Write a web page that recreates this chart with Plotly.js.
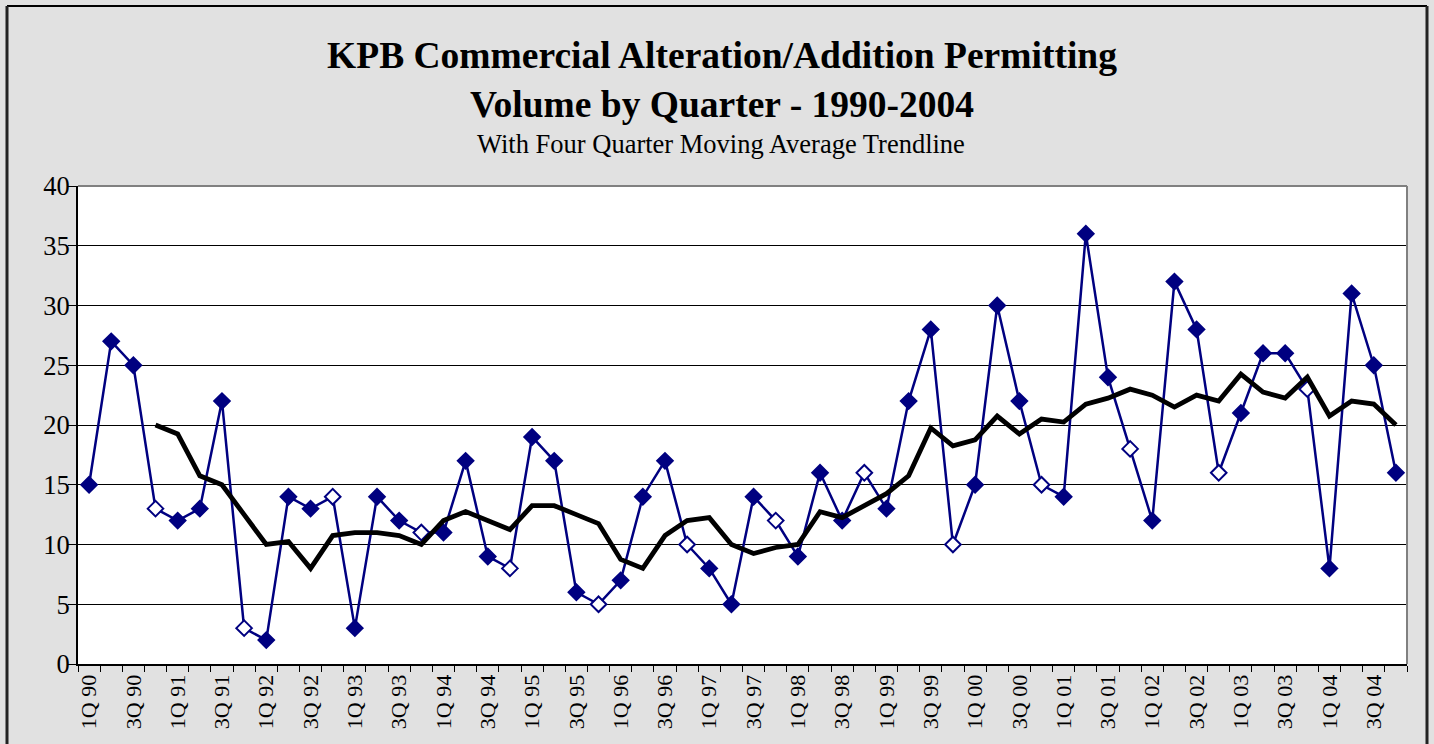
<!DOCTYPE html>
<html>
<head>
<meta charset="utf-8">
<script src="https://cdn.plot.ly/plotly-3.0.1.min.js"></script>
<style>html,body{margin:0;padding:0;background:#e1e1e1;}#chart{width:1434px;height:744px;}</style>
</head>
<body>
<div id="chart"></div>
<script>
const quarters = [
  "1Q 90","2Q 90","3Q 90","4Q 90","1Q 91","2Q 91","3Q 91","4Q 91",
  "1Q 92","2Q 92","3Q 92","4Q 92","1Q 93","2Q 93","3Q 93","4Q 93",
  "1Q 94","2Q 94","3Q 94","4Q 94","1Q 95","2Q 95","3Q 95","4Q 95",
  "1Q 96","2Q 96","3Q 96","4Q 96","1Q 97","2Q 97","3Q 97","4Q 97",
  "1Q 98","2Q 98","3Q 98","4Q 98","1Q 99","2Q 99","3Q 99","4Q 99",
  "1Q 00","2Q 00","3Q 00","4Q 00","1Q 01","2Q 01","3Q 01","4Q 01",
  "1Q 02","2Q 02","3Q 02","4Q 02","1Q 03","2Q 03","3Q 03","4Q 03",
  "1Q 04","2Q 04","3Q 04","4Q 04"
];
const permits = [
  15,27,25,13, 12,13,22,3, 2,14,13,14, 3,14,12,11,
  11,17,9,8, 19,17,6,5, 7,14,17,10, 8,5,14,12,
  9,16,12,16, 13,22,28,10, 15,30,22,15, 14,36,24,18,
  12,32,28,16, 21,26,26,23, 8,31,25,16
];
const movingAvg = [
  null,null,null,20, 19.25,15.75,15,12.5, 10,10.25,8,10.75, 11,11,10.75,10,
  12,12.75,12,11.25, 13.25,13.25,12.5,11.75, 8.75,8,10.75,12, 12.25,10,9.25,9.75,
  10,12.75,12.25,13.25, 14.25,15.75,19.75,18.25, 18.75,20.75,19.25,20.5, 20.25,21.75,22.25,23,
  22.5,21.5,22.5,22, 24.25,22.75,22.25,24, 20.75,22,21.75,20
];
const titleLine1 = "KPB Commercial Alteration/Addition Permitting";
const titleLine2 = "Volume by Quarter - 1990-2004";
const subtitle = "With Four Quarter Moving Average Trendline";

const navy = "#000080";
const fillColors = quarters.map((q, i) => (q.startsWith("4Q") && i < quarters.length - 1) ? "#ffffff" : navy);
const tickText = quarters.map((q, i) => (i % 2 === 0 ? q : ""));

const serif = "Liberation Serif, Times New Roman, serif";

const traces = [
  {
    x: quarters, y: permits, type: "scatter", mode: "lines+markers",
    line: {color: navy, width: 2.5},
    marker: {symbol: "diamond", size: 12, color: fillColors, line: {color: navy, width: 2}},
    hoverinfo: "x+y", showlegend: false
  },
  {
    x: quarters, y: movingAvg, type: "scatter", mode: "lines",
    line: {color: "#000000", width: 4.8},
    connectgaps: false, hoverinfo: "x+y", showlegend: false
  }
];

const L = 78, R = 1407, T = 186, B = 664;
const pw = R - L, ph = B - T;
const px = v => (v - L) / pw;
const py = v => (B - v) / ph;

const layout = {
  width: 1434, height: 744,
  paper_bgcolor: "#e1e1e1", plot_bgcolor: "#ffffff",
  margin: {l: L, r: 1434 - R, t: T, b: 744 - B, pad: 0},
  font: {family: serif, color: "#000"},
  title: {
    text: "<b>" + titleLine1 + "</b><br><b>" + titleLine2 + "</b>",
    font: {family: serif, size: 37.5, color: "#000"},
    x: 722 / 1434, xanchor: "center", xref: "container",
    y: 1 - 68 / 744, yanchor: "middle", yref: "container"
  },
  annotations: [{
    text: subtitle, xref: "paper", yref: "paper",
    x: px(721), y: py(144), xanchor: "center", yanchor: "middle",
    showarrow: false, font: {family: serif, size: 26.5, color: "#000"}
  }],
  xaxis: {
    type: "category", range: [-0.5, quarters.length - 0.5],
    tickmode: "array", tickvals: quarters, ticktext: tickText,
    tickson: "boundaries", ticks: "outside", ticklen: 6, tickcolor: "#000", tickwidth: 1,
    tickangle: -90, tickfont: {family: serif, size: 22, color: "#000"},
    showgrid: false, showline: true, linecolor: "#000", linewidth: 2, zeroline: false,
    fixedrange: true
  },
  yaxis: {
    range: [0, 40], tickmode: "linear", tick0: 0, dtick: 5,
    ticks: "outside", ticklen: 8, tickcolor: "#000", tickwidth: 1,
    ticklabelstandoff: -7,
    tickfont: {family: serif, size: 26.5, color: "#000"},
    showgrid: true, gridcolor: "#000", gridwidth: 1,
    showline: true, linecolor: "#000", linewidth: 2, zeroline: false,
    fixedrange: true
  },
  shapes: [
    {type: "line", xref: "paper", yref: "paper", x0: 0, x1: 1, y0: 1, y1: 1, line: {color: "#808080", width: 2}},
    {type: "line", xref: "paper", yref: "paper", x0: 1, x1: 1, y0: 0, y1: 1, line: {color: "#808080", width: 2}},
    {type: "line", xref: "paper", yref: "paper", x0: px(7), x1: px(1427), y0: py(6), y1: py(6), line: {color: "#000", width: 2}},
    {type: "line", xref: "paper", yref: "paper", x0: px(7), x1: px(7), y0: py(6), y1: py(760), line: {color: "#222", width: 3}},
    {type: "line", xref: "paper", yref: "paper", x0: px(1427), x1: px(1427), y0: py(6), y1: py(760), line: {color: "#222", width: 3}}
  ],
  showlegend: false
};

Plotly.newPlot("chart", traces, layout, {displayModeBar: false, staticPlot: true});
</script>
</body>
</html>
